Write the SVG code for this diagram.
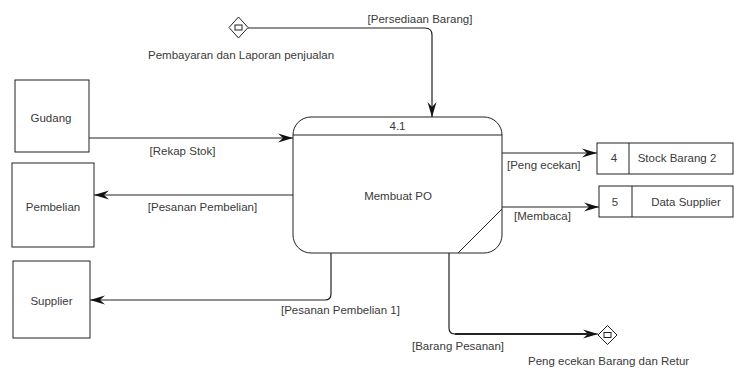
<svg xmlns="http://www.w3.org/2000/svg" width="734" height="370" viewBox="0 0 734 370">
<style>
.t{font-family:"Liberation Sans",Arial,sans-serif;font-size:11.5px;fill:#3a3a3a}
.m{text-anchor:middle}
.b{fill:none;stroke:#222;stroke-width:1}
.c{fill:none;stroke:#222;stroke-width:1.2}
</style>
<defs>
<marker id="arr" viewBox="-16 -6 17 12" refX="0" refY="0" markerWidth="17" markerHeight="12" markerUnits="userSpaceOnUse" orient="auto">
<path d="M0,0 L-15,-4.5 L-10,0 L-15,4.5 Z" fill="#111"/>
</marker>
</defs>

<g id="connectors">
<path class="c" d="M248,28 H425 Q432,28 432,35 V117" marker-end="url(#arr)"/>
<path class="c" d="M89,138 H293" marker-end="url(#arr)"/>
<path class="c" d="M293,195 H94" marker-end="url(#arr)"/>
<path class="c" d="M331,253 V294 Q331,300 325,300 H90" stroke-width="1.5" marker-end="url(#arr)"/>
<path class="c" d="M449,253 V328 Q449,334 455,334 H598" marker-end="url(#arr)"/>
<path d="M455,334 H590" fill="none" stroke="#222" stroke-width="2"/>
<path class="c" d="M502,153 H597" marker-end="url(#arr)"/>
<path class="c" d="M502,207 H599" marker-end="url(#arr)"/>
<text class="t m" x="420" y="22.5">[Persediaan Barang]</text>
<text class="t" x="148" y="58.5">Pembayaran dan Laporan penjualan</text>
<text class="t m" x="182.5" y="155">[Rekap Stok]</text>
<text class="t m" x="202.5" y="211">[Pesanan Pembelian]</text>
<text class="t" x="281" y="314">[Pesanan Pembelian 1]</text>
<text class="t" x="412" y="350">[Barang Pesanan]</text>
<text class="t" x="528" y="365">Peng ecekan Barang dan Retur</text>
<text class="t" x="507" y="169">[Peng ecekan]</text>
<text class="t" x="514" y="220">[Membaca]</text>
</g>

<g id="source-persediaan">
<polygon class="b" points="238.5,17 248,27.5 238.5,38 229,27.5"/>
<rect class="b" x="235" y="25" width="7" height="5"/>
</g>

<g id="sink-pengecekan">
<polygon class="b" points="607.5,325.5 617,335 607.5,344.5 598,335"/>
<rect class="b" x="604" y="332.5" width="7" height="5"/>
</g>

<g id="gudang">
<rect class="b" x="15" y="80" width="74" height="72"/>
<text class="t m" x="51" y="121.5">Gudang</text>
</g>

<g id="pembelian">
<rect class="b" x="12" y="163" width="82" height="84"/>
<text class="t m" x="53" y="211">Pembelian</text>
</g>

<g id="supplier">
<rect class="b" x="13" y="261" width="77" height="77"/>
<text class="t m" x="51.5" y="305">Supplier</text>
</g>

<g id="process-4-1">
<rect class="b" x="293" y="117" width="209" height="136" rx="18"/>
<line class="b" x1="293" y1="135" x2="502" y2="135"/>
<line class="b" x1="502" y1="209" x2="458" y2="253"/>
<text class="t m" x="397.5" y="130">4.1</text>
<text class="t m" x="398" y="199.5">Membuat PO</text>
</g>

<g id="store-4">
<rect class="b" x="597" y="143" width="136" height="31"/>
<line class="b" x1="629" y1="143" x2="629" y2="174"/>
<text class="t m" x="614" y="162">4</text>
<text class="t m" x="677" y="162">Stock Barang 2</text>
</g>

<g id="store-5">
<rect class="b" x="599" y="186" width="134" height="31"/>
<line class="b" x1="632" y1="186" x2="632" y2="217"/>
<text class="t m" x="615" y="206">5</text>
<text class="t m" x="686" y="206">Data Supplier</text>
</g>
</svg>
